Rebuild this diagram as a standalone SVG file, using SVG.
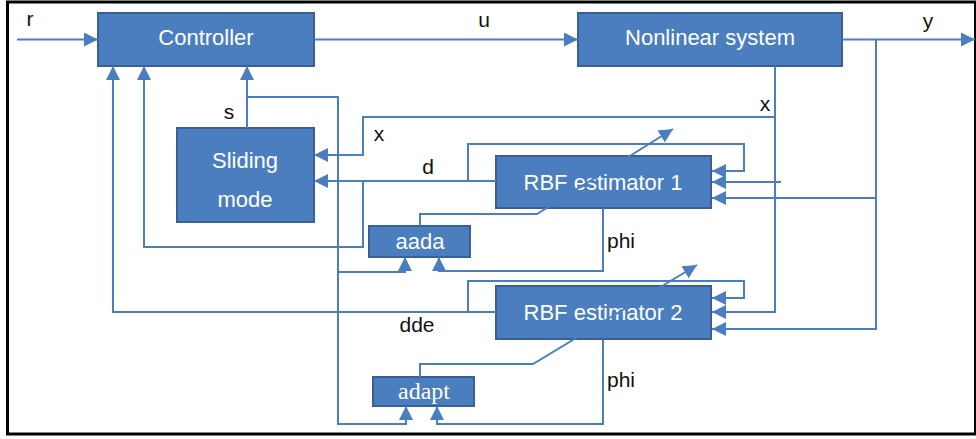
<svg xmlns="http://www.w3.org/2000/svg" width="976" height="439" viewBox="0 0 976 439">
<defs>
<style>
.box{fill:#4a7ebf;stroke:#3a5f95;stroke-width:2}
.bt{fill:#ffffff;font-family:"Liberation Sans",Arial,sans-serif;font-size:22px;text-anchor:middle}
.st{fill:#ffffff;font-family:"Liberation Serif","Times New Roman",serif;font-size:24px;text-anchor:middle}
.lb{fill:#111111;font-family:"Liberation Sans",Arial,sans-serif;font-size:21px;text-anchor:middle}
.ln{fill:none;stroke:#4a7ebf;stroke-width:2}
.ar{marker-end:url(#ah)}
</style>
<marker id="ah" viewBox="0 0 14 14" refX="14" refY="7" markerWidth="14" markerHeight="14" markerUnits="userSpaceOnUse" orient="auto">
<path d="M0,0 L14,7 L0,14 z" fill="#4a7ebf"/>
</marker>
</defs>
<rect x="0" y="0" width="976" height="439" fill="#ffffff"/>
<rect x="7.5" y="2" width="968" height="432" fill="none" stroke="#000000" stroke-width="3"/>

<g id="controller">
<rect class="box" x="98" y="13" width="216" height="53"/>
<text class="bt" x="206" y="45">Controller</text>
</g>
<g id="nonlinear-system">
<rect class="box" x="578" y="13" width="264" height="53"/>
<text class="bt" x="710" y="45">Nonlinear system</text>
</g>
<g id="sliding-mode">
<rect class="box" x="177" y="128" width="137" height="94"/>
<text class="bt" x="245" y="168">Sliding</text>
<text class="bt" x="245" y="207">mode</text>
</g>
<g id="rbf1">
<rect class="box" x="496" y="156" width="215" height="52"/>
<text class="bt" x="603" y="190">RBF estimator 1</text>
</g>
<g id="rbf2">
<rect class="box" x="496" y="286" width="215" height="53"/>
<text class="bt" x="603" y="320">RBF estimator 2</text>
</g>
<g id="aada">
<rect class="box" x="369" y="226" width="101" height="31"/>
<text class="bt" x="420" y="249" font-size="21">aada</text>
</g>
<g id="adapt">
<rect class="box" x="373" y="377" width="101" height="29"/>
<text class="st" x="424" y="399">adapt</text>
</g>

<g id="connectors">
<path class="ln ar" d="M17,39.5 H98"/>
<path class="ln ar" d="M314,39.5 H578"/>
<path class="ln ar" d="M842,39.5 H975"/>
<path class="ln ar" d="M876,39.5 V329 H712"/>
<path class="ln ar" d="M876,198 H712"/>
<path class="ln ar" d="M775,66 V312 H712"/>
<path class="ln ar" d="M775,117 H363 V155 H314"/>
<path class="ln ar" d="M781,182 H712"/>
<path class="ln ar" d="M247,128 V66"/>
<path class="ln ar" d="M247,97 H338 V424 H406 V406"/>
<path class="ln ar" d="M338,272 H405 V257"/>
<path class="ln ar" d="M496,181 H314"/>
<path class="ln ar" d="M468,181 V144 H744 V171 H712"/>
<path class="ln ar" d="M363,181 V247 H144 V66"/>
<path class="ln ar" d="M603,208 V271 H439 V257"/>
<path class="ln ar" d="M420,226 V214 H537 L673,129"/>
<path class="ln ar" d="M496,312 H113 V66"/>
<path class="ln ar" d="M468,312 V281 H744 V298 H712"/>
<path class="ln ar" d="M603,339 V424 H437 V406"/>
<path class="ln ar" d="M420,377 V364 H533 L697,265"/>
</g>

<g id="labels">
<text class="lb" x="30" y="26">r</text>
<text class="lb" x="484" y="27">u</text>
<text class="lb" x="928" y="28">y</text>
<text class="lb" x="765" y="111">x</text>
<text class="lb" x="379" y="141">x</text>
<text class="lb" x="229" y="119">s</text>
<text class="lb" x="428" y="174">d</text>
<text class="lb" x="417" y="332">dde</text>
<text class="lb" x="621" y="248">phi</text>
<text class="lb" x="621" y="387">phi</text>
</g>
</svg>
